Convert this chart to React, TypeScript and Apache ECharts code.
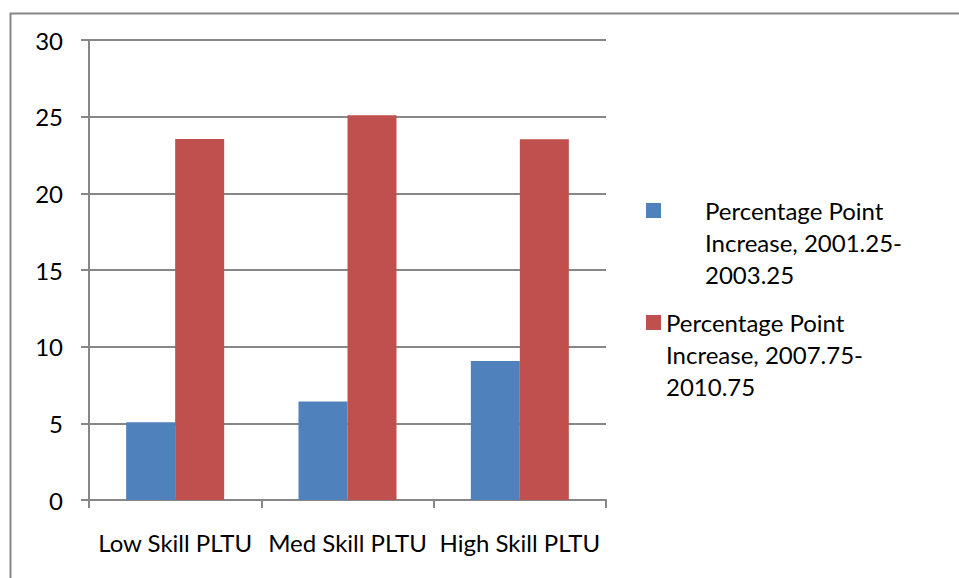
import React, { useEffect, useRef } from "react";
import * as echarts from "echarts";

const categories = ["Low Skill PLTU", "Med Skill PLTU", "High Skill PLTU"];
const seriesNames = [
  "Percentage Point Increase, 2001.25-2003.25",
  "Percentage Point Increase, 2007.75-2010.75",
];
const legendTexts = [
  "Percentage Point\nIncrease, 2001.25-\n2003.25",
  "Percentage Point\nIncrease, 2007.75-\n2010.75",
];
const earlyIncrease = [5.07, 6.43, 9.07];
const lateIncrease = [23.55, 25.09, 23.53];
const yMin = 0;
const yMax = 30;
const yInterval = 5;

const FONT = "Lato, Carlito, Calibri, sans-serif";
const GRID = "#878787";
const BLUE = "#4F81BD";
const RED = "#C0504D";

export default function App() {
  const ref = useRef<HTMLDivElement>(null);
  useEffect(() => {
    if (!ref.current) return;
    const chart = echarts.init(ref.current, null, { renderer: "svg" });
    const lineStyle = { color: GRID, width: 2 };
    const legendBase = {
      orient: "vertical",
      left: 646,
      padding: 0,
      itemWidth: 15,
      itemHeight: 15,
      icon: "rect",
      selectedMode: false,
    };
    const fmt = (name: string) => "\n\n" + legendTexts[seriesNames.indexOf(name)];
    chart.setOption({
      animation: false,
      backgroundColor: "#ffffff",
      textStyle: { fontFamily: FONT },
      grid: {
        left: 89,
        right: 353,
        top: 40,
        bottom: 78,
        containLabel: false,
        outerBoundsMode: "none",
      },
      xAxis: {
        type: "category",
        data: categories,
        axisLine: { show: true, lineStyle },
        axisTick: { show: true, length: 8, lineStyle },
        axisLabel: { color: "#000", fontSize: 24, margin: 30, interval: 0, fontFamily: FONT },
        splitLine: { show: false },
      },
      yAxis: {
        type: "value",
        min: yMin,
        max: yMax,
        interval: yInterval,
        axisLine: { show: true, lineStyle },
        axisTick: { show: true, length: 8, lineStyle },
        splitLine: { show: true, lineStyle },
        axisLabel: { color: "#000", fontSize: 24, margin: 26, fontFamily: FONT },
      },
      legend: [
        {
          ...legendBase,
          data: [seriesNames[0]],
          top: 130.5,
          formatter: fmt,
          textStyle: { fontSize: 24, lineHeight: 32, color: "#000", fontFamily: FONT, padding: [0, 0, 0, 39] },
        },
        {
          ...legendBase,
          data: [seriesNames[1]],
          top: 242.5,
          formatter: fmt,
          textStyle: { fontSize: 24, lineHeight: 32, color: "#000", fontFamily: FONT },
        },
      ],
      graphic: [
        {
          type: "rect",
          left: 8,
          top: 11,
          shape: { x: 0, y: 0, width: 1000, height: 620 },
          style: { fill: "none", stroke: GRID, lineWidth: 2 },
          silent: true,
          z: 0,
        },
      ],
      series: [
        {
          type: "bar",
          name: seriesNames[0],
          data: earlyIncrease,
          barWidth: 49,
          barGap: "0%",
          itemStyle: { color: BLUE },
        },
        {
          type: "bar",
          name: seriesNames[1],
          data: lateIncrease,
          barWidth: 49,
          barGap: "0%",
          itemStyle: { color: RED },
        },
      ],
    });
    return () => chart.dispose();
  }, []);
  return (
    <div
      ref={ref}
      style={{ position: "absolute", left: 0, top: 0, width: 959, height: 578, background: "#fff" }}
    />
  );
}
